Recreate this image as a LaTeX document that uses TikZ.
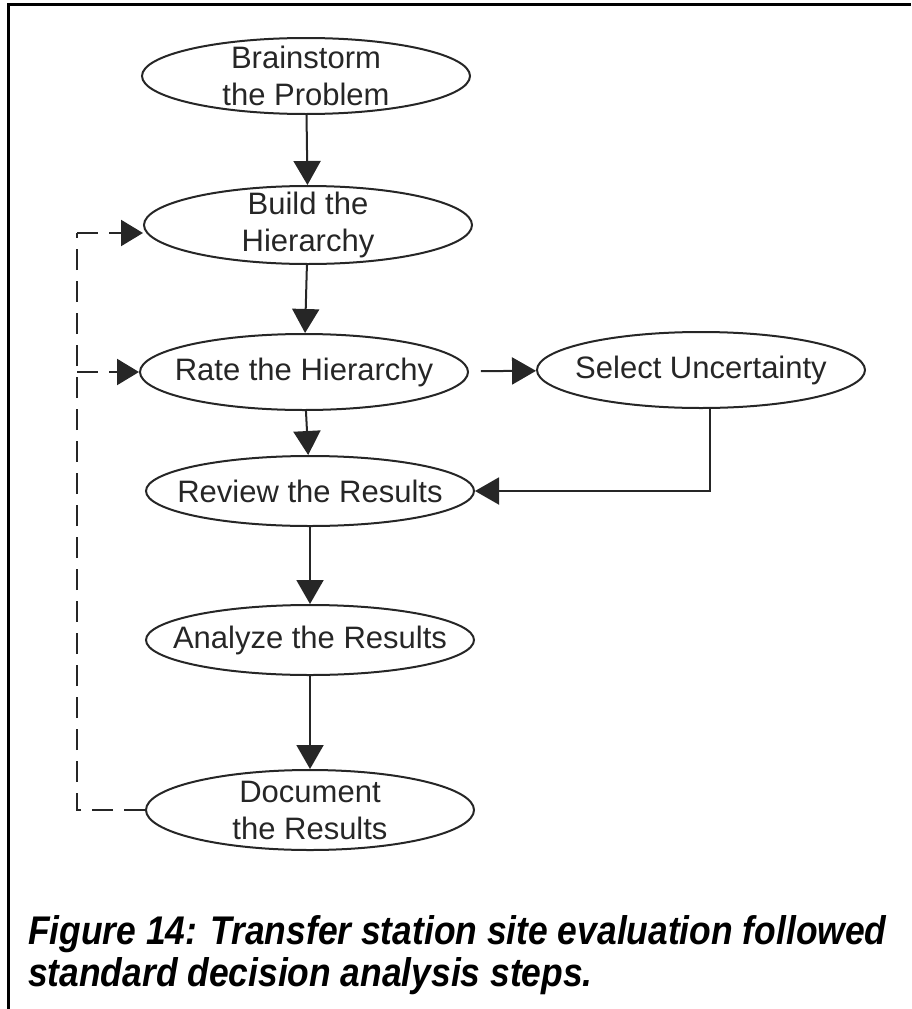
\documentclass[tikz,border=0pt]{standalone}
\usepackage{fontspec}
\setmainfont{Liberation Sans}
\newfontfamily\capfont[FakeStretch=0.885]{Liberation Sans}
\usetikzlibrary{shapes.geometric,arrows.meta}

\tikzset{
  stepnode/.style={ellipse, draw=black!85, line width=2pt, minimum width=328pt,
    minimum height=76pt, inner xsep=-45pt, inner ysep=-25pt, align=center,
    font=\fontsize{31}{37}\selectfont, text=black!85},
  flow/.style={draw=black!85, line width=2pt,
    -{Triangle[length=24pt,width=27pt]}},
  loopline/.style={draw=black!85, line width=2.2pt, dash pattern=on 21pt off 11pt},
  caption/.style={anchor=north west, align=left, inner sep=0pt,
    font=\capfont\fontsize{40}{42}\selectfont\bfseries\itshape}
}

\begin{document}
\begin{tikzpicture}[x=1pt,y=-1pt]
	\useasboundingbox (0,0) rectangle (911,1009);

	% Rahmen
	\draw[line width=3pt] (8,1009) -- (8,4) -- (911,4);

	% Schritte
	\node[stepnode] (brain) at (306,76) {Brainstorm\\the Problem};
	\node[stepnode, minimum height=78pt] (build) at (308,225) {Build the\\Hierarchy};
	\node[stepnode] (rate) at (304,372) {Rate the Hierarchy};
	\node[stepnode] (select) at (701,370) {Select Uncertainty};
	\node[stepnode, minimum height=70pt] (review) at (310,491) {Review the Results};
	\node[stepnode, minimum height=70pt] (analyze) at (310,640) {Analyze the Results};
	\node[stepnode, minimum height=80pt] (document) at (310,810) {Document\\the Results};

	% Pfeile
	\draw[flow] (brain) -- (build);
	\draw[flow] (build) -- (rate);
	\draw[flow, shorten <=12pt] (rate) -- (select);
	\draw[flow] (rate) -- (review);
	\draw[flow] ([xshift=9pt]select.south) |- (review);
	\draw[flow] (review) -- (analyze);
	\draw[flow] (analyze) -- (document);

	% Rueckkopplung
	\coordinate (loop top) at (77,233);
	\coordinate (loop bot) at (77,810);
	\draw[loopline] (document) -- (loop bot) -- (loop top);
	\draw[loopline, -{Triangle[length=22pt,width=26pt]}] (loop top) -- (loop top -| build.west);
	\draw[loopline, -{Triangle[length=22pt,width=26pt]}] (loop top |- rate) -- (rate);

	% Bildunterschrift
	\node[caption] (cap) at (28,915) {Figure 14: Transfer station site evaluation followed\\standard decision analysis steps.};
\end{tikzpicture}
\end{document}
